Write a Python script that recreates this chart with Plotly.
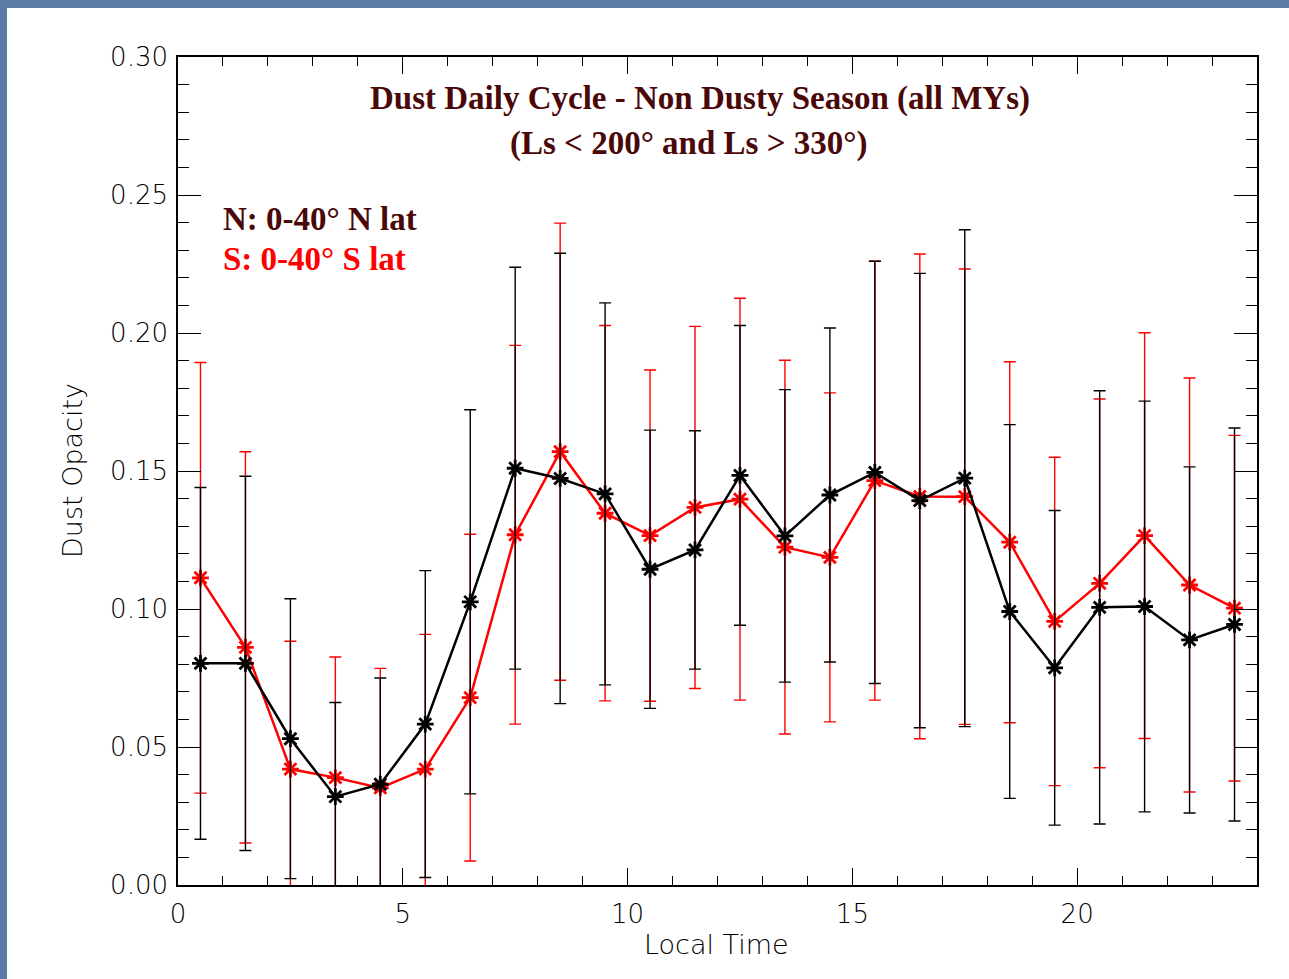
import plotly.graph_objects as go

# ---------------- data ----------------
local_time = [0.5, 1.5, 2.5, 3.5, 4.5, 5.5, 6.5, 7.5, 8.5, 9.5, 10.5, 11.5,
              12.5, 13.5, 14.5, 15.5, 16.5, 17.5, 18.5, 19.5, 20.5, 21.5, 22.5, 23.5]

north_mean = [0.0803, 0.0803, 0.0530, 0.0320, 0.0365, 0.0583, 0.1026, 0.1510,
              0.1473, 0.1417, 0.1144, 0.1214, 0.1484, 0.1265, 0.1413, 0.1495,
              0.1393, 0.1474, 0.0991, 0.0787, 0.1006, 0.1009, 0.0888, 0.0944]
north_std = [0.0637, 0.0678, 0.0507, 0.0341, 0.0385, 0.0556, 0.0696, 0.0728,
             0.0816, 0.0692, 0.0504, 0.0432, 0.0543, 0.0530, 0.0605, 0.0765,
             0.0823, 0.0900, 0.0677, 0.0570, 0.0785, 0.0744, 0.0627, 0.0712]

south_mean = [0.1113, 0.0861, 0.0420, 0.0389, 0.0352, 0.0420, 0.0679, 0.1269,
              0.1570, 0.1347, 0.1266, 0.1368, 0.1398, 0.1224, 0.1187, 0.1465,
              0.1408, 0.1407, 0.1242, 0.0955, 0.1093, 0.1266, 0.1087, 0.1003]
south_std = [0.0780, 0.0709, 0.0463, 0.0437, 0.0433, 0.0488, 0.0592, 0.0686,
             0.0828, 0.0680, 0.0600, 0.0656, 0.0728, 0.0677, 0.0596, 0.0795,
             0.0878, 0.0825, 0.0654, 0.0595, 0.0668, 0.0735, 0.0750, 0.0626]

x_ticks = [0, 5, 10, 15, 20]
y_ticks = [0.00, 0.05, 0.10, 0.15, 0.20, 0.25, 0.30]
y_tick_text = ["0.00", "0.05", "0.10", "0.15", "0.20", "0.25", "0.30"]

title_line1 = "Dust Daily Cycle - Non Dusty Season (all MYs)"
title_line2 = "(Ls < 200° and Ls > 330°)"
label_north = "N: 0-40° N lat"
label_south = "S: 0-40° S lat"

# ---------------- layout geometry ----------------
W, H = 1289, 979
L, R, T, B = 178, 32, 57, 94
PW, PH = W - L - R, H - T - B

def px(xp):
    return (xp - L) / PW

def py(yp):
    return (H - B - yp) / PH

MAROON = "#4a0808"
RED = "#ff0000"
TEXTGRAY = "#000000"
TICKFONT = dict(family="DejaVu Sans", size=26, color=TEXTGRAY, weight=200)

fig = go.Figure()

fig.add_trace(go.Scatter(
    x=local_time, y=south_mean, mode="lines+markers", name="S",
    line=dict(color=RED, width=2.5),
    marker=dict(symbol="asterisk-open", size=14, color=RED, line=dict(color=RED, width=2.8)),
    error_y=dict(type="data", array=south_std, visible=True, color=RED, thickness=1.4, width=6),
))
fig.add_trace(go.Scatter(
    x=local_time, y=north_mean, mode="lines+markers", name="N",
    line=dict(color="black", width=2.5),
    marker=dict(symbol="asterisk-open", size=14, color="black", line=dict(color="black", width=2.8)),
    error_y=dict(type="data", array=north_std, visible=True, color="black", thickness=1.4, width=6),
))

fig.update_layout(
    width=W, height=H,
    margin=dict(l=L, r=R, t=T, b=B, pad=0),
    paper_bgcolor="white", plot_bgcolor="white",
    showlegend=False,
    xaxis=dict(
        range=[0, 24], tickvals=x_ticks, ticktext=[str(v) for v in x_ticks],
        showgrid=False, zeroline=False, showline=True, linecolor="black", linewidth=1.6,
        mirror="ticks", ticks="inside", ticklen=17, tickwidth=1.4, tickcolor="black",
        minor=dict(dtick=1, tick0=0, ticks="inside", ticklen=9, tickwidth=1.4, tickcolor="black", showgrid=False),
        tickfont=TICKFONT, ticklabelstandoff=5,
    ),
    yaxis=dict(
        range=[0, 0.30], tickvals=y_ticks, ticktext=y_tick_text,
        showgrid=False, zeroline=False, showline=True, linecolor="black", linewidth=1.6,
        mirror="ticks", ticks="inside", ticklen=23, tickwidth=1.4, tickcolor="black",
        minor=dict(dtick=0.01, tick0=0, ticks="inside", ticklen=11, tickwidth=1.4, tickcolor="black", showgrid=False),
        tickfont=TICKFONT, ticklabelstandoff=3,
    ),
)

serif_bold = dict(family="Liberation Serif", size=33)
axis_font = dict(family="DejaVu Sans", size=27, color=TEXTGRAY, weight=200)
annotations = [
    dict(text="<b>%s</b>" % title_line1, x=px(700), y=py(98), font=dict(color=MAROON, **serif_bold)),
    dict(text="<b>%s</b>" % title_line2, x=px(688), y=py(143), font=dict(color=MAROON, **serif_bold)),
    dict(text="<b>%s</b>" % label_north, x=px(221), y=py(219), xanchor="left", font=dict(color=MAROON, **serif_bold)),
    dict(text="<b>%s</b>" % label_south, x=px(221), y=py(259), xanchor="left", font=dict(color=RED, **serif_bold)),
    dict(text="Local Time", x=px(716), y=py(944), font=axis_font),
    dict(text="Dust Opacity", x=px(72), y=py(471), textangle=-90, font=axis_font),
]
for a in annotations:
    a.setdefault("xanchor", "center")
    a.update(xref="paper", yref="paper", yanchor="middle", showarrow=False)
fig.update_layout(annotations=annotations)

# blue slide frame on top and left edges
BLUE = "#5a7ba6"
fig.add_shape(type="rect", xref="paper", yref="paper", x0=px(0), x1=px(7), y0=py(H), y1=py(0),
              fillcolor=BLUE, line=dict(width=0), layer="above")
fig.add_shape(type="rect", xref="paper", yref="paper", x0=px(0), x1=px(W), y0=py(8), y1=py(0),
              fillcolor=BLUE, line=dict(width=0), layer="above")

fig.write_html("out.html")
